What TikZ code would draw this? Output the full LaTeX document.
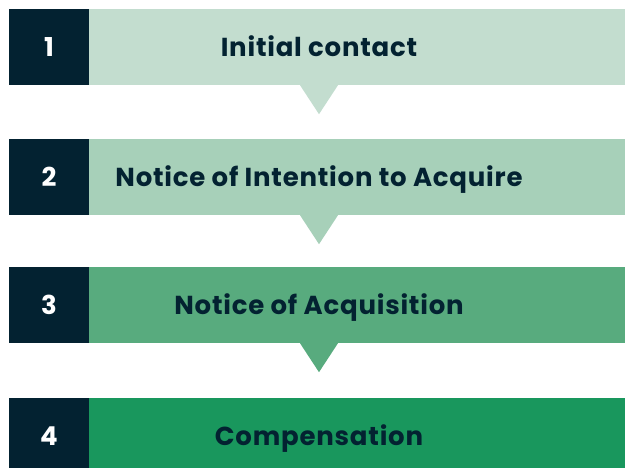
\documentclass[tikz,border=0pt]{standalone}
\usepackage{fontspec}
\setmainfont{Poppins}[LetterSpace=3]
\definecolor{navy}{HTML}{032231}
\definecolor{pale}{HTML}{C3DDCF}
\definecolor{mint}{HTML}{A7D0B9}
\definecolor{sage}{HTML}{58AB7E}
\definecolor{leaf}{HTML}{19975D}
\begin{document}
\begin{tikzpicture}[x=1pt, y=-1pt,
  every node/.style={inner sep=0pt, text height=18.5pt, text depth=0pt,
    font=\fontsize{26}{29}\selectfont\bfseries},
  row/.style={fill=#1, text=navy, minimum width=620pt, minimum height=76pt},
  num/.style={fill=navy, text=white, minimum width=80pt, minimum height=76pt},
  tip/.style={fill=#1}]
  \useasboundingbox (0,0) rectangle (625,468);
  % the four stages
  \node[row=pale] (row1) at (319,47) {Initial contact};
  \node[row=mint] (row2) at (319,177) {Notice of Intention to Acquire};
  \node[row=sage] (row3) at (319,305) {Notice of Acquisition};
  \node[row=leaf] (row4) at (319,436) {Compensation};
  \node[num] (num1) at (49,47) {1};
  \node[num] (num2) at (49,177) {2};
  \node[num] (num3) at (49,305) {3};
  \node[num] (num4) at (49,436) {4};
  % pointers between stages
  \fill[tip=pale] ([xshift=-19pt]row1.south) -- ([xshift=19pt]row1.south) -- ([yshift=-29pt]row1.south) -- cycle;
  \fill[tip=mint] ([xshift=-19pt]row2.south) -- ([xshift=19pt]row2.south) -- ([yshift=-29pt]row2.south) -- cycle;
  \fill[tip=sage] ([xshift=-19pt]row3.south) -- ([xshift=19pt]row3.south) -- ([yshift=-29pt]row3.south) -- cycle;
\end{tikzpicture}
\end{document}
